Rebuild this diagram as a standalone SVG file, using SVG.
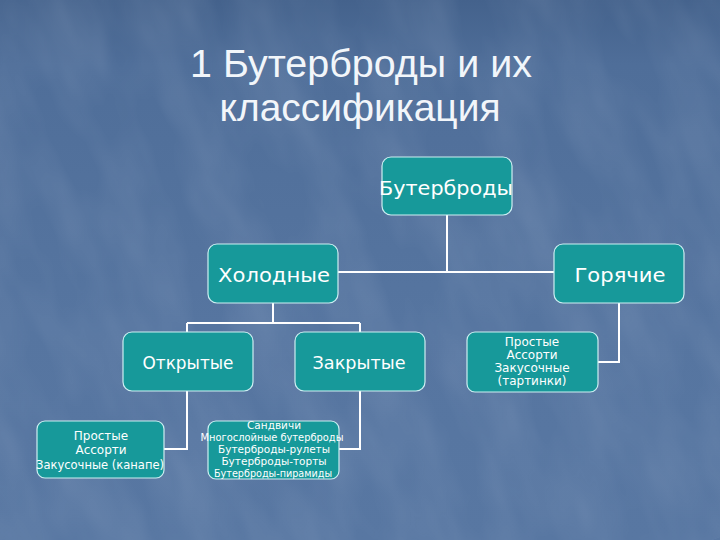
<svg xmlns="http://www.w3.org/2000/svg" width="720" height="540" viewBox="0 0 720 540">
<defs>
<linearGradient id="bg" x1="0" y1="0" x2="0" y2="1">
<stop offset="0" stop-color="#44628c"/>
<stop offset="0.12" stop-color="#4f6e99"/>
<stop offset="0.6" stop-color="#5675a0"/>
<stop offset="1" stop-color="#5877a2"/>
</linearGradient>
<filter id="tex" x="0" y="0" width="100%" height="100%">
<feTurbulence type="fractalNoise" baseFrequency="0.03 0.012" numOctaves="3" seed="4" result="n"/>
<feColorMatrix in="n" type="matrix" values="0 0 0 0 0.85  0 0 0 0 0.9  0 0 0 0 1  0 0 0 -1.6 1.1"/>
</filter>
<style>
.box{fill:#17999a;stroke:#cdeff2;stroke-width:1.2}
.t{fill:#ffffff;font-family:"DejaVu Sans",Verdana,sans-serif;text-anchor:middle}
.title{fill:#f2f6fa;font-family:"Liberation Sans",Arial,sans-serif;font-size:39px;text-anchor:middle}
.c{fill:none;stroke:#ffffff;stroke-width:2}
</style>
</defs>
<rect width="720" height="540" fill="url(#bg)"/>
<rect width="720" height="540" filter="url(#tex)" opacity="0.1" transform="rotate(-20 360 270) scale(1.4) translate(-100 -80)"/>
<g id="title">
<text class="title" x="361" y="77" textLength="342" lengthAdjust="spacingAndGlyphs">1 Бутерброды и их</text>
<text class="title" x="360" y="121" textLength="281" lengthAdjust="spacingAndGlyphs">классификация</text>
</g>
<g id="connectors">
<path class="c" d="M447 215 V272 M338 272 H555"/>
<path class="c" d="M273 303 V323 M187 323 H360 M187 323 V332 M360 323 V332"/>
<path class="c" d="M619 303 V362 H598"/>
<path class="c" d="M187 391 V449 H164"/>
<path class="c" d="M360 391 V449 H339"/>
</g>
<g id="n-buterbrody">
<rect class="box" x="382" y="157" width="130" height="58" rx="9"/>
<text class="t" x="446" y="195" font-size="19" textLength="134" lengthAdjust="spacingAndGlyphs">Бутерброды</text>
</g>
<g id="n-holodnye">
<rect class="box" x="208" y="244" width="130" height="59" rx="9"/>
<text class="t" x="274" y="282" font-size="19" textLength="112" lengthAdjust="spacingAndGlyphs">Холодные</text>
</g>
<g id="n-goryachie">
<rect class="box" x="554" y="244" width="130" height="59" rx="9"/>
<text class="t" x="620" y="282" font-size="19" textLength="91" lengthAdjust="spacingAndGlyphs">Горячие</text>
</g>
<g id="n-otkrytye">
<rect class="box" x="123" y="332" width="130" height="59" rx="9"/>
<text class="t" x="188" y="369" font-size="18" textLength="91" lengthAdjust="spacingAndGlyphs">Открытые</text>
</g>
<g id="n-zakrytye">
<rect class="box" x="295" y="332" width="130" height="59" rx="9"/>
<text class="t" x="359" y="369" font-size="18" textLength="93" lengthAdjust="spacingAndGlyphs">Закрытые</text>
</g>
<g id="n-tartinki">
<rect class="box" x="467" y="332" width="131" height="60" rx="8"/>
<text class="t" x="532" y="346" font-size="12">Простые</text>
<text class="t" x="532" y="359" font-size="12">Ассорти</text>
<text class="t" x="532" y="372" font-size="12">Закусочные</text>
<text class="t" x="532" y="385" font-size="12">(тартинки)</text>
</g>
<g id="n-kanape">
<rect class="box" x="37" y="421" width="127" height="57" rx="8"/>
<text class="t" x="101" y="440" font-size="12">Простые</text>
<text class="t" x="101" y="454" font-size="12">Ассорти</text>
<text class="t" x="100" y="469" font-size="12" textLength="128" lengthAdjust="spacingAndGlyphs">Закусочные (канапе)</text>
</g>
<g id="n-zakrytye-list">
<rect class="box" x="208" y="421" width="131" height="58" rx="8"/>
<text class="t" x="274" y="429" font-size="10.5">Сандвичи</text>
<text class="t" x="272" y="441" font-size="10.5" textLength="143" lengthAdjust="spacingAndGlyphs">Многослойные бутерброды</text>
<text class="t" x="274" y="453" font-size="10.5">Бутерброды-рулеты</text>
<text class="t" x="274" y="465" font-size="10.5">Бутерброды-торты</text>
<text class="t" x="273" y="477" font-size="10.5" textLength="118" lengthAdjust="spacingAndGlyphs">Бутерброды-пирамиды</text>
</g>
</svg>
